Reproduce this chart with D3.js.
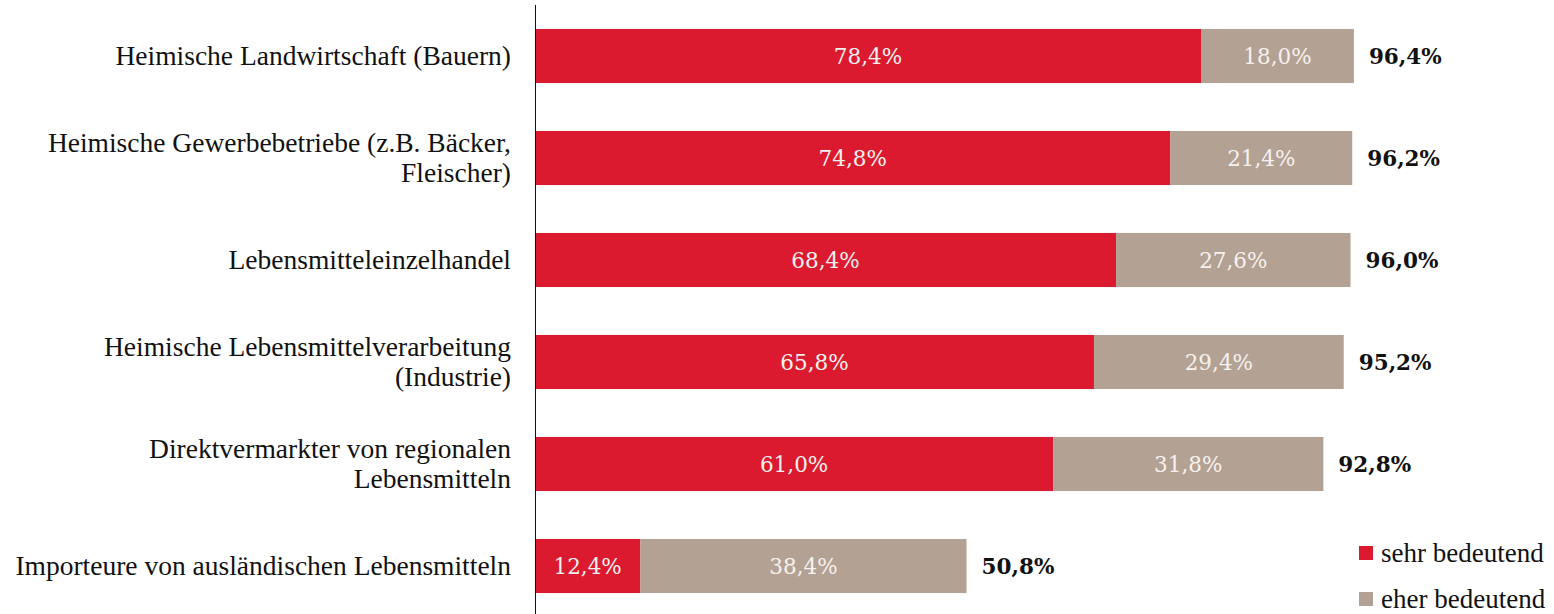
<!DOCTYPE html>
<html>
<head>
<meta charset="utf-8">
<script src="https://cdn.jsdelivr.net/npm/d3@7"></script>
<style>
  body { margin: 0; background: #fff; }
  .label { font-family: "Liberation Serif", serif; font-size: 27.5px; fill: #111; }
  .val { font-family: "DejaVu Serif", serif; font-size: 21.5px; fill: #f6f1ee; }
  .total { font-family: "DejaVu Serif", serif; font-size: 21.5px; font-weight: bold; fill: #111; }
  .legend { font-family: "Liberation Serif", serif; font-size: 27px; fill: #111; }
</style>
</head>
<body>
<script>
// categories (lines split where the label wraps)
const categories = [
  ["Heimische Landwirtschaft (Bauern)"],
  ["Heimische Gewerbebetriebe (z.B. Bäcker,", "Fleischer)"],
  ["Lebensmitteleinzelhandel"],
  ["Heimische Lebensmittelverarbeitung", "(Industrie)"],
  ["Direktvermarkter von regionalen", "Lebensmitteln"],
  ["Importeure von ausländischen Lebensmitteln"]
];
const sehr = [78.4, 74.8, 68.4, 65.8, 61.0, 12.4];
const eher = [18.0, 21.4, 27.6, 29.4, 31.8, 38.4];
const totals = [96.4, 96.2, 96.0, 95.2, 92.8, 50.8];
const seriesNames = ["sehr bedeutend", "eher bedeutend"];
const colors = ["#dc1a2f", "#b3a193"];

const W = 1554, H = 614;
const fmt = v => v.toFixed(1).replace(".", ",") + "%";

const svg = d3.select("body").append("svg")
    .attr("width", W)
    .attr("height", H);

const keys = categories.map((c, i) => i);
const y = d3.scaleBand().domain(keys).range([5, 617]).paddingInner(0.47).paddingOuter(0.235);
const x = d3.scaleLinear().domain([0, 100]).range([535, 535 + 849.5]);

// stacked data
const rows = keys.map(i => ({i, s: sehr[i], e: eher[i], t: totals[i]}));
const stack = d3.stack().keys(["s", "e"])(rows);

const layers = svg.append("g").selectAll("g").data(stack)
  .enter().append("g")
    .attr("fill", (d, k) => colors[k]);

layers.selectAll("rect").data(d => d)
  .enter().append("rect")
    .attr("x", d => x(d[0]))
    .attr("y", d => y(d.data.i))
    .attr("width", d => x(d[1]) - x(d[0]))
    .attr("height", y.bandwidth());

layers.selectAll("text").data(d => d)
  .enter().append("text")
    .attr("class", "val")
    .attr("x", d => (x(d[0]) + x(d[1])) / 2)
    .attr("y", d => y(d.data.i) + y.bandwidth() / 2)
    .attr("text-anchor", "middle")
    .attr("dy", "0.36em")
    .text(d => fmt(d[1] - d[0]));

// totals
svg.append("g").selectAll("text").data(rows)
  .enter().append("text")
    .attr("class", "total")
    .attr("x", d => x(d.t) + 15)
    .attr("y", d => y(d.i) + y.bandwidth() / 2)
    .attr("dy", "0.36em")
    .text(d => fmt(d.t));

// category labels
const lab = svg.append("g").selectAll("text").data(keys)
  .enter().append("text")
    .attr("class", "label")
    .attr("text-anchor", "end")
    .attr("y", i => y(i) + y.bandwidth() / 2 - (categories[i].length - 1) * 15);
lab.selectAll("tspan").data(i => categories[i])
  .enter().append("tspan")
    .attr("x", 511)
    .attr("dy", (d, j) => j === 0 ? "0.33em" : 30)
    .text(d => d);

// axis line
svg.append("line")
    .attr("x1", 535.5).attr("x2", 535.5)
    .attr("y1", 5).attr("y2", H)
    .attr("stroke", "#111").attr("stroke-width", 1);

// legend
const lg = svg.append("g").selectAll("g").data(seriesNames)
  .enter().append("g")
    .attr("transform", (d, k) => `translate(1359,${553 + k * 46})`);
lg.append("rect")
    .attr("x", 0).attr("y", -7)
    .attr("width", 14).attr("height", 14)
    .attr("fill", (d, k) => colors[k]);
lg.append("text")
    .attr("class", "legend")
    .attr("x", 22)
    .attr("dy", "0.33em")
    .text(d => d);
</script>
</body>
</html>
